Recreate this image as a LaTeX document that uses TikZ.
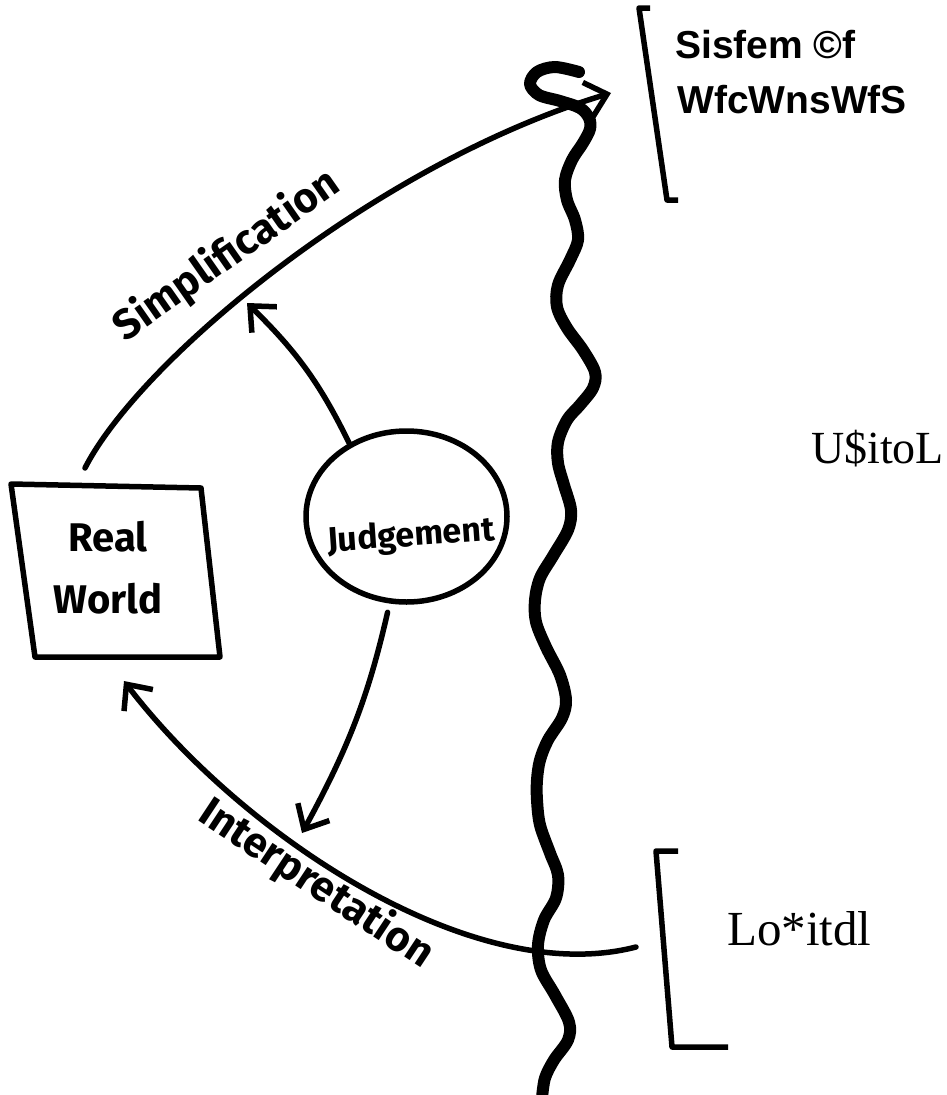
\documentclass[tikz,border=0pt]{standalone}
\usepackage{fontspec}
\setmainfont{Liberation Serif}
\newfontfamily\hand{Fira Sans}
\newfontfamily\sysfont{Liberation Sans}
\usetikzlibrary{arrows.meta,shapes.geometric,bending}
\begin{document}
\begin{tikzpicture}[x=1pt,y=-1pt,
  thin/.style={line width=5.5pt, line cap=round, line join=round},
  conn/.style={thin, -{Straight Barb[length=20pt,width=36pt]}},
  wavyline/.style={line width=12pt, line cap=round, line join=round},
  bracketline/.style={line width=5.5pt, line join=round},
  hand/.style={font=\hand\bfseries\fontsize{40}{60}\selectfont, inner sep=0pt},
  handlabel/.style={font=\hand\bfseries\fontsize{42}{50}\selectfont, inner sep=0pt},
  systext/.style={font=\sysfont\bfseries\fontsize{39}{55}\selectfont, inner sep=0pt, anchor=base west},
  sertext/.style={font=\fontsize{46}{56}\selectfont, inner sep=0pt, anchor=base west},
  judgenode/.style={ellipse, draw, line width=5.5pt, minimum width=201pt, minimum height=171pt, inner sep=0pt}
]
\useasboundingbox (0,0) rectangle (946,1095);

% wavy boundary line
\draw[wavyline] plot[smooth, tension=0.55] coordinates {(579,72) (555,67) (537,72) (530,84) (539,95) (560,101) (580,108) (589,118) (590,129) (583,143) (572,160) (565,180) (567,200) (575,220) (578,240) (570,260) (558,285) (557,307) (567,328) (583,350) (595,372) (593,388) (580,405) (567,420) (558,442) (558,463) (564,485) (571,510) (568,530) (553,556) (540,578) (535,600) (536,622) (546,647) (560,675) (566,700) (562,718) (548,740) (540,760) (537,780) (537,800) (540,825) (550,853) (558,875) (556,898) (544,920) (538,945) (541,970) (555,995) (569,1022) (568,1040) (554,1060) (545,1078) (542,1098)};

% Real World box
\draw[thin] (11,484) -- (201,488) -- (220,657) -- (35,657) -- cycle;
\node[hand, align=center] (rw) at (108,568) {Real\\[2pt]World};

% Judgement
\node[judgenode] (jd) at (406.5,516.5) {};
\node[hand, font=\hand\bfseries\fontsize{34}{40}\selectfont, rotate=4] (jdt) at (411,537) {Judgement};

% coordinates for free ends
\coordinate (simpStart) at (85,468);
\coordinate (simpEnd) at (611,93);
\coordinate (interpStart) at (636,947);
\coordinate (interpEnd) at (124,681);
\coordinate (jOne) at (247,303);
\coordinate (jTwo) at (302,833);

% arcs
\draw[conn] (simpStart) .. controls (140,360) and (380,160) .. (simpEnd);
\draw[conn] (interpStart) .. controls (470,990) and (235,830) .. (interpEnd);
\draw[conn] (jd.128) to[bend right=10] (jOne);
\draw[conn, shorten <=9pt] (jd.259) to[bend left=8] (jTwo);

% labels
\node[handlabel, rotate=35] (simp) at (227,256) {Simplification};
\node[handlabel, rotate=-33.5] (interp) at (316,884) {Interpretation};

% brackets
\draw[bracketline] (650,8) -- (639,8) -- (667,200) -- (678,200);
\draw[bracketline] (678,851) -- (656,851) -- (672,1047) -- (728,1047);

% texts
\node[systext] (sysA) at (675,58) {Sisfem ©f};
\node[systext] (sysB) at (677,113) {WfcWnsWfS};
\node[sertext] (ut) at (811,463) {U\$itoL};
\node[sertext, font=\fontsize{49}{56}\selectfont] (lo) at (727,945) {Lo*itdl};
\end{tikzpicture}
\end{document}
